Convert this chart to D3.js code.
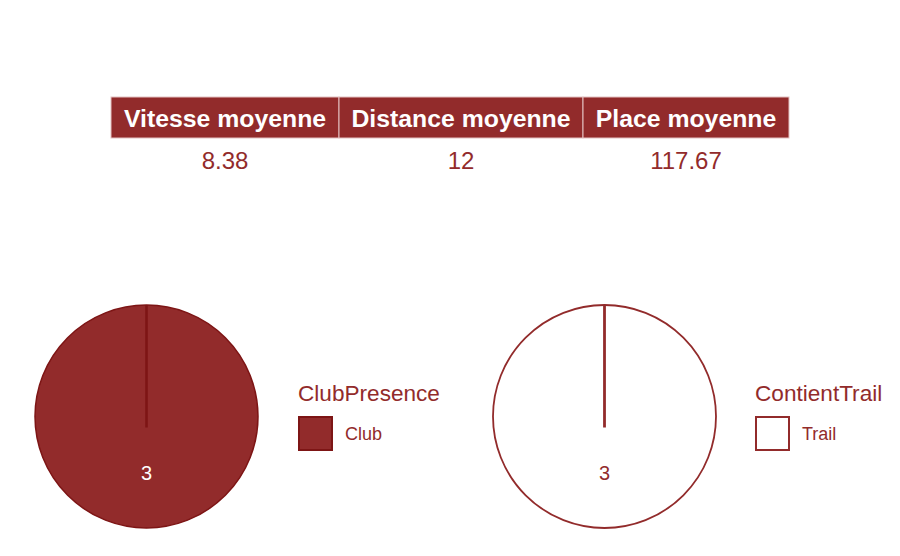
<!DOCTYPE html>
<html><head><meta charset="utf-8">
<script src="https://cdn.jsdelivr.net/npm/d3@7"></script>
<style>body{margin:0;background:#fff}svg{display:block;font-family:"Liberation Sans",Arial,sans-serif}</style>
</head><body>
<svg id="c" width="900" height="556"></svg>
<script>
const headers = ["Vitesse moyenne", "Distance moyenne", "Place moyenne"];
const values = ["8.38", "12", "117.67"];
const clubCategories = ["Club"];
const clubCounts = [3];
const trailCategories = ["Trail"];
const trailCounts = [3];

const red = "#922B2B";
const svg = d3.select("#c");

// table
const colEdges = [111, 339, 583, 789];
const tg = svg.append("g");
headers.forEach((h, i) => {
  const x0 = colEdges[i], x1 = colEdges[i + 1];
  tg.append("rect").attr("x", x0).attr("y", 97).attr("width", x1 - x0).attr("height", 41)
    .attr("fill", red).attr("stroke", "#e3c2c2").attr("stroke-width", 1);
  tg.append("text").attr("x", (x0 + x1) / 2).attr("y", 127).attr("text-anchor", "middle")
    .attr("fill", "#fff").attr("font-weight", "bold").attr("font-size", 24.8).text(h);
  tg.append("text").attr("x", (x0 + x1) / 2).attr("y", 169).attr("text-anchor", "middle")
    .attr("fill", red).attr("font-size", 24).text(values[i]);
});

function pie(cx, cy, cats, counts, fill, stroke, lw, labelColor, title, lx) {
  const r = 111.5;
  const g = svg.append("g").attr("transform", `translate(${cx},${cy})`);
  const arcs = d3.pie().sort(null)(counts);
  const arc = d3.arc().innerRadius(0).outerRadius(r);
  g.selectAll("path.s").data(arcs).join("path").attr("class", "s").attr("d", arc)
    .attr("fill", fill).attr("stroke", stroke).attr("stroke-width", lw);
  arcs.forEach(a => {
    const y = d3.scaleLinear().domain([0, 1]).range([11, -r]);
    g.append("line").attr("x1", 0).attr("x2", 0).attr("y1", y(0)).attr("y2", y(1))
      .attr("stroke", stroke).attr("stroke-width", lw + 1);
    g.append("text").attr("x", 0).attr("y", r * 0.5 + 8).attr("text-anchor", "middle")
      .attr("fill", labelColor).attr("font-size", 20).text(a.data);
  });
  const lg = svg.append("g");
  lg.append("text").attr("x", lx).attr("y", 401).attr("fill", red).attr("font-size", 22.6).text(title);
  cats.forEach((c, i) => {
    lg.append("rect").attr("x", lx + 1).attr("y", 417 + i * 40).attr("width", 33).attr("height", 33)
      .attr("fill", fill).attr("stroke", stroke).attr("stroke-width", 2);
    lg.append("text").attr("x", lx + 47).attr("y", 440 + i * 40).attr("fill", red).attr("font-size", 18).text(c);
  });
}
pie(146.5, 416.5, clubCategories, clubCounts, red, "#7d1515", 1.5, "#fff", "ClubPresence", 298);
pie(604.5, 416.5, trailCategories, trailCounts, "#fff", red, 1.8, red, "ContientTrail", 755);
</script>
</body></html>
